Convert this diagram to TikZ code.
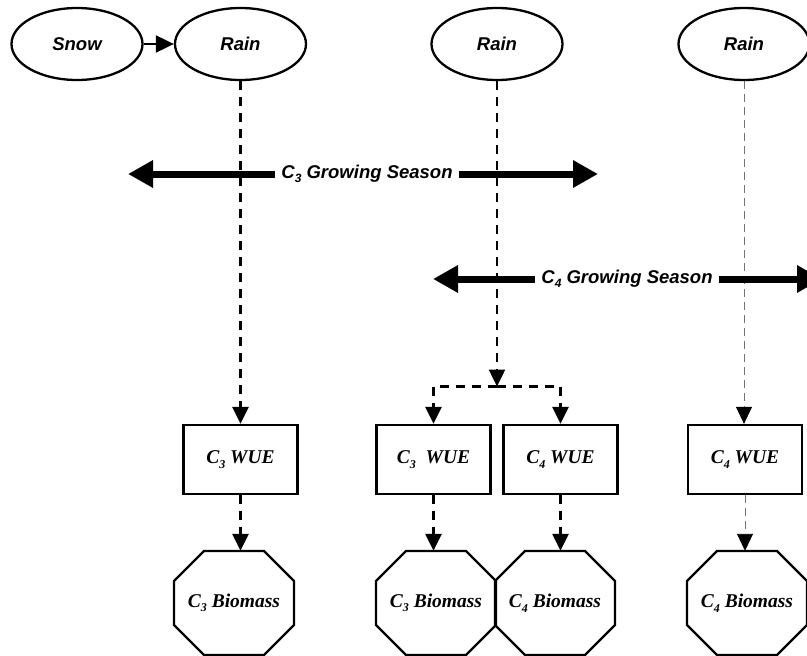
\documentclass[tikz,border=0pt]{standalone}
\usepackage{fontspec}
\setmainfont{Liberation Serif}
\newfontfamily\arialfont{Liberation Sans}
\usetikzlibrary{shapes.geometric,arrows.meta,calc}
\newcommand\lsub[1]{\raisebox{-4.5pt}{\fontsize{12pt}{12pt}\selectfont #1}}
\newcommand\octagonnode[4]{%
  \node[biotext] (#1) at (#2,#3) {#4};
  \draw[shapeline] ([shift={(-30,-52)}]#1.center) -- ([shift={(30,-52)}]#1.center)
    -- ([shift={(60,-22)}]#1.center) -- ([shift={(60,22)}]#1.center)
    -- ([shift={(30,52)}]#1.center) -- ([shift={(-30,52)}]#1.center)
    -- ([shift={(-60,22)}]#1.center) -- ([shift={(-60,-22)}]#1.center) -- cycle;}
\begin{document}
\begin{tikzpicture}[x=1pt,y=-1pt,
  shapeline/.style={draw=black,line width=2.3pt,line join=miter},
  ell/.style={ellipse,shapeline,minimum width=131pt,minimum height=72pt,inner sep=0pt,
    font={\arialfont\bfseries\itshape\fontsize{18.5pt}{20pt}\selectfont}},
  wuebox/.style={rectangle,shapeline,minimum width=114pt,minimum height=69pt,inner sep=0pt,
    font={\bfseries\itshape\fontsize{19.5pt}{21pt}\selectfont}},
  biotext/.style={rectangle,draw=none,minimum width=120pt,minimum height=104pt,inner sep=0pt,
    font={\bfseries\itshape\fontsize{19.5pt}{21pt}\selectfont}},
  seasontext/.style={inner xsep=6pt,inner ysep=0pt,
    font={\arialfont\bfseries\itshape\fontsize{18.5pt}{20pt}\selectfont}},
  darr/.style={draw=black,line width=2.5pt,dash pattern=on 9pt off 7pt,
    -{Triangle[length=17pt,width=16pt]}},
  thinarr/.style={draw=black!55,line width=0.9pt,dash pattern=on 8pt off 5pt,
    -{Triangle[length=17pt,width=16pt,color=black]}},
  sarr/.style={draw=black,line width=2pt,-{Triangle[length=18pt,width=17pt]}},
  bigarr/.style={draw=black,line width=7pt,-{Triangle[length=25pt,width=26pt]}}
]
\fill[white] (0,0) rectangle (807,656);
\useasboundingbox (0,0) rectangle (807,656);

% ellipses
\node[ell] (snow) at (77,44) {Snow};
\node[ell] (rain1) at (240.5,44) {Rain};
\node[ell] (rain2) at (497,44) {Rain};
\node[ell] (rain3) at (744,44) {Rain};

% growing season arrows
\node[seasontext] (c3gs) at (367,174) {C\lsub{3} Growing Season};
\coordinate (c3L) at (128,174);
\coordinate (c3R) at (598,174);
\node[seasontext] (c4gs) at (627,279) {C\lsub{4} Growing Season};
\coordinate (c4L) at (433,279);
\coordinate (c4R) at (822,279);

% WUE boxes
\node[wuebox] (wue1) at (240.5,459.5) {C\lsub{3} WUE};
\node[wuebox] (wue2) at (433.5,459.5) {C\lsub{3} \ WUE};
\node[wuebox] (wue3) at (560.5,459.5) {C\lsub{4} WUE};
\node[wuebox] (wue4) at (745,459.5) {C\lsub{4} WUE};

% biomass octagons
\octagonnode{bio1}{234}{603}{C\lsub{3} Biomass}
\octagonnode{bio2}{436}{603}{C\lsub{3} Biomass}
\octagonnode{bio3}{555}{603}{C\lsub{4} Biomass}
\octagonnode{bio4}{747}{603}{C\lsub{4} Biomass}

% junction
\coordinate (j) at (497,386.5);

% connectors
\draw[sarr] (snow) -- (rain1);
\draw[darr] (rain1) -- (wue1);
\draw[darr] (rain2) -- (j);
\draw[darr] (j) -| (wue2.north);
\draw[darr] (j) -| (wue3.north);
\draw[thinarr] (rain3.south) -- (rain3.south |- wue4.north);

\draw[darr] (wue1.south) -- (wue1.south |- bio1.north);
\draw[darr] (wue2.south) -- (wue2.south |- bio2.north);
\draw[darr] (wue3.south) -- (wue3.south |- bio3.north);
\draw[thinarr] (wue4.south) -- (wue4.south |- bio4.north);

\draw[bigarr] (c3gs.west) -- (c3L);
\draw[bigarr] (c3gs.east) -- (c3R);
\draw[bigarr] (c4gs.west) -- (c4L);
\draw[bigarr] (c4gs.east) -- (c4R);
\end{tikzpicture}
\end{document}
